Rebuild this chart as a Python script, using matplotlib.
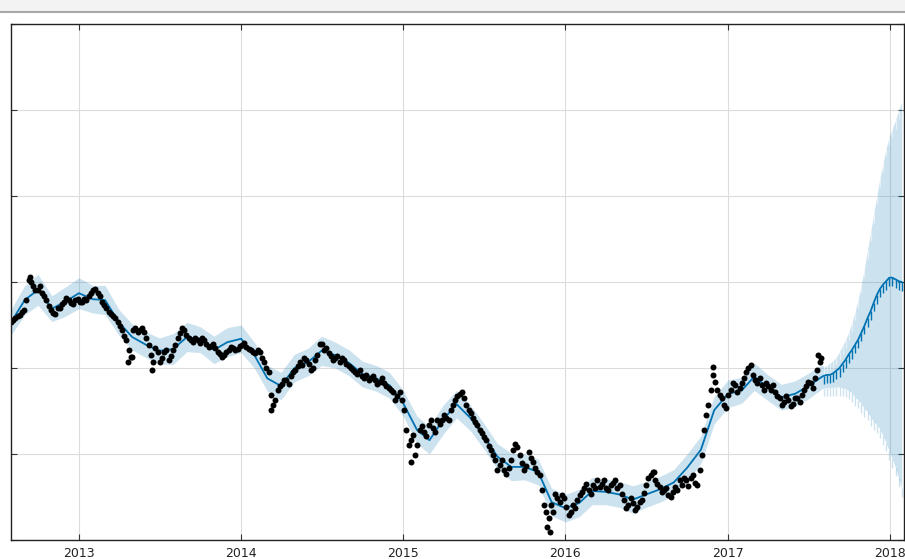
import matplotlib
matplotlib.use("Agg")
import matplotlib.pyplot as plt
import matplotlib.dates as mdates
import numpy as np
import pandas as pd
from matplotlib.lines import Line2D

# observed series, one reading every 10 days from 2012-08-01
obs_start = "2012-08-01"
obs_values = [
    2.53, 2.58, 2.62, 2.67, 3.02, 2.95, 2.91, 2.87, 2.79, 2.67,
    2.63, 2.70, 2.77, 2.79, 2.74, 2.80, 2.77, 2.79, 2.87, 2.92,
    2.84, 2.73, 2.65, 2.60, 2.53, 2.44, 2.33, 2.13, 2.47, 2.44,
    2.42, 2.27, 2.07, 2.19, 2.12, 2.21, 2.14, 2.27, 2.41, 2.44,
    2.35, 2.30, 2.33, 2.35, 2.28, 2.26, 2.23, 2.16, 2.15, 2.21,
    2.23, 2.22, 2.27, 2.24, 2.21, 2.17, 2.19, 2.07, 1.95, 1.57,
    1.74, 1.81, 1.86, 1.91, 1.98, 2.07, 2.12, 2.05, 2.00, 2.15,
    2.28, 2.23, 2.14, 2.12, 2.07, 2.09, 2.02, 1.98, 1.93, 1.91,
    1.92, 1.88, 1.86, 1.84, 1.83, 1.77, 1.72, 1.67, 1.63, 1.28,
    1.16, 0.99, 1.28, 1.26, 1.34, 1.30, 1.40, 1.40, 1.42, 1.51,
    1.63, 1.70, 1.65, 1.51, 1.42, 1.34, 1.24, 1.16, 1.05, 0.93,
    0.87, 0.81, 0.84, 1.05, 1.08, 0.90, 0.86, 0.95, 0.84, 0.76,
    0.41, 0.26, 0.33, 0.49, 0.52, 0.38, 0.33, 0.37, 0.52, 0.60,
    0.58, 0.64, 0.70, 0.65, 0.60, 0.64, 0.70, 0.64, 0.47, 0.41,
    0.43, 0.38, 0.47, 0.64, 0.76, 0.70, 0.62, 0.58, 0.52, 0.56,
    0.58, 0.64, 0.70, 0.72, 0.66, 0.81, 1.28, 1.57, 1.92, 1.74,
    1.65, 1.53, 1.74, 1.80, 1.77, 1.88, 2.00, 1.92, 1.83, 1.80,
    1.83, 1.74, 1.72, 1.65, 1.60, 1.63, 1.58, 1.65, 1.69, 1.79,
    1.83, 1.88, 2.07,
]

# second run of readings, 5 days after each of the above
obs_mid_start = "2012-08-06"
obs_mid_values = [
    2.56, 2.60, 2.65, 2.79, 3.00, 2.91, 2.95, 2.84, 2.72, 2.64,
    2.70, 2.74, 2.81, 2.76, 2.79, 2.77, 2.80, 2.84, 2.91, 2.87,
    2.77, 2.70, 2.63, 2.58, 2.49, 2.37, 2.21, 2.44, 2.42, 2.47,
    2.35, 2.15, 2.23, 2.07, 2.19, 2.09, 2.21, 2.35, 2.47, 2.38,
    2.33, 2.35, 2.29, 2.33, 2.24, 2.28, 2.19, 2.13, 2.19, 2.24,
    2.21, 2.26, 2.29, 2.22, 2.19, 2.21, 2.12, 2.00, 1.69, 1.63,
    1.79, 1.86, 1.81, 1.95, 2.02, 2.03, 2.09, 1.98, 2.09, 2.28,
    2.21, 2.17, 2.09, 2.14, 2.12, 2.05, 2.00, 1.95, 1.98, 1.88,
    1.86, 1.91, 1.81, 1.88, 1.79, 1.74, 1.63, 1.72, 1.51, 1.10,
    1.22, 1.10, 1.33, 1.21, 1.40, 1.26, 1.35, 1.45, 1.40, 1.57,
    1.67, 1.72, 1.57, 1.48, 1.37, 1.28, 1.20, 1.09, 0.99, 0.81,
    0.93, 0.77, 0.93, 1.12, 0.99, 0.81, 1.02, 0.91, 0.79, 0.58,
    0.33, 0.41, 0.53, 0.44, 0.49, 0.29, 0.41, 0.47, 0.56, 0.65,
    0.53, 0.60, 0.62, 0.70, 0.58, 0.66, 0.60, 0.53, 0.37, 0.49,
    0.35, 0.44, 0.55, 0.72, 0.79, 0.65, 0.56, 0.60, 0.50, 0.62,
    0.70, 0.72, 0.63, 0.76, 0.64, 0.99, 1.45, 1.74, 1.84, 1.69,
    1.57, 1.69, 1.83, 1.72, 1.83, 1.95, 2.03, 1.86, 1.88, 1.74,
    1.79, 1.80, 1.67, 1.57, 1.67, 1.56, 1.65, 1.60, 1.74, 1.84,
    1.77, 1.98,
]

# stray points away from the main run
extra_dates = ["2012-09-13", "2013-04-21", "2013-04-30", "2013-06-14",
               "2014-03-09", "2015-01-18", "2015-11-20", "2015-11-27",
               "2016-07-19", "2016-11-28", "2017-07-22", "2017-07-29"]
extra_values = [3.06, 2.07, 2.13, 1.98, 1.51, 0.91, 0.15, 0.09,
                0.79, 2.01, 2.15, 2.12]

# fitted curve, one value at the start of each month
fit_start = "2012-08-01"
fit_values = [
    2.53, 2.79, 2.91, 2.69, 2.77,
    2.87, 2.80, 2.79, 2.53, 2.36, 2.27, 2.20, 2.22, 2.36, 2.33, 2.21, 2.30,
    2.34, 2.14, 1.88, 1.79, 2.00, 2.07, 2.20, 2.15, 2.06, 1.93, 1.88, 1.80,
    1.59, 1.28, 1.16, 1.40, 1.58, 1.42, 1.21, 0.97, 0.85, 0.85, 0.79, 0.44,
    0.37, 0.43, 0.57, 0.56, 0.53, 0.47, 0.53, 0.59, 0.67, 0.84, 1.05, 1.51,
    1.70, 1.74, 1.90, 1.77, 1.66, 1.70, 1.79, 1.90,
]
fit_half_width = [
    0.15, 0.17, 0.18, 0.15, 0.17,
    0.18, 0.16, 0.17, 0.15, 0.15, 0.15, 0.15, 0.18, 0.17, 0.15, 0.16, 0.17,
    0.16, 0.15, 0.15, 0.16, 0.16, 0.16, 0.17, 0.15, 0.15, 0.15, 0.15, 0.15,
    0.15, 0.16, 0.16, 0.17, 0.16, 0.15, 0.15, 0.15, 0.16, 0.15, 0.15, 0.16,
    0.16, 0.16, 0.16, 0.15, 0.15, 0.16, 0.15, 0.15, 0.15, 0.16, 0.16, 0.16,
    0.16, 0.15, 0.16, 0.15, 0.15, 0.15, 0.15, 0.14,
]

# forecast, one weekday level per week, with its interval
fcst_start = "2017-08-05"
fcst_values = [
    1.91, 1.92, 1.92, 1.94, 1.97, 2.00, 2.05, 2.10, 2.16, 2.21, 2.27, 2.33,
    2.41, 2.49, 2.58, 2.66, 2.76, 2.85, 2.92, 2.97, 3.01, 3.05, 3.05, 3.03,
    3.01, 3.00,
]
fcst_upper = [
    2.01, 2.03, 2.06, 2.09, 2.13, 2.19, 2.26, 2.33, 2.42, 2.53, 2.66, 2.80,
    2.97, 3.16, 3.37, 3.58, 3.79, 4.01, 4.21, 4.38, 4.56, 4.69, 4.79, 4.88,
    5.00, 5.09,
]
fcst_lower = [
    1.77, 1.77, 1.77, 1.78, 1.78, 1.78, 1.77, 1.76, 1.74, 1.71, 1.66, 1.63,
    1.58, 1.53, 1.49, 1.43, 1.38, 1.34, 1.29, 1.21, 1.13, 1.03, 0.94, 0.84,
    0.72, 0.60,
]
# weekend dip of the weekly component
weekend_drop = 0.10

BLUE = "#0072B2"

obs_dates = pd.date_range(obs_start, periods=len(obs_values), freq="10D")
obs_mid_dates = pd.date_range(obs_mid_start, periods=len(obs_mid_values), freq="10D")
fit_dates = pd.date_range(fit_start, periods=len(fit_values), freq="MS")
fcst_dates = pd.date_range(fcst_start, periods=len(fcst_values), freq="7D")

fit = np.array(fit_values)
half = np.array(fit_half_width)
fc = np.array(fcst_values)
fc_up = np.array(fcst_upper)
fc_lo = np.array(fcst_lower)

all_dates = fit_dates.append(fcst_dates)
yhat = np.concatenate([fit, fc])
upper = np.concatenate([fit + half, fc_up])
lower = np.concatenate([fit - half, fc_lo])

fig = plt.figure(figsize=(9.05, 5.59), dpi=100)
ax = fig.add_axes([10.5 / 905, 19 / 559, 893 / 905, 516 / 559])

ax.fill_between(all_dates, lower, upper, color=BLUE, alpha=0.2, lw=0)
# weekend teeth of the forecast
ax.vlines(fcst_dates, fc_lo - weekend_drop, fc_lo, color=BLUE, alpha=0.2, lw=1.0)
ax.vlines(fcst_dates, fc_up - weekend_drop, fc_up, color="white", alpha=0.5, lw=1.0)
ax.vlines(fcst_dates, fc - weekend_drop, fc, color=BLUE, lw=1.0)
ax.plot(all_dates, yhat, color=BLUE, lw=1.3)

dot = dict(marker="o", ls="none", color="k", ms=4.3, mew=0)
ax.plot(obs_dates, obs_values, **dot)
ax.plot(obs_mid_dates, obs_mid_values, **dot)
ax.plot(pd.to_datetime(extra_dates), extra_values, **dot)

ax.set_xlim(pd.Timestamp("2012-07-31"), pd.Timestamp("2018-01-31"))
ax.set_ylim(0, 6)
ax.xaxis.set_major_locator(mdates.YearLocator())
ax.xaxis.set_major_formatter(mdates.DateFormatter("%Y"))
ax.set_yticks(np.arange(0, 7, 1))
ax.grid(True, color="#dcdcdc", lw=0.8)
ax.set_axisbelow(True)

ax.tick_params(direction="in", top=True, right=True, length=4, width=0.8,
               color="#333333", labelleft=False, labelsize=9,
               labelcolor="#222222", pad=5)
for sp in ax.spines.values():
    sp.set_linewidth(1.0)
    sp.set_color("#222222")

# thin toolbar strip above the plot
fig.patches.append(plt.Rectangle((0, 1 - 11 / 559), 1, 11 / 559,
                                 transform=fig.transFigure, color="#f3f3f3", zorder=0))
fig.add_artist(Line2D([0, 1], [1 - 11.5 / 559] * 2, transform=fig.transFigure,
                      color="#a8a8a8", lw=1.5))

fig.savefig("out.png", dpi=100)
